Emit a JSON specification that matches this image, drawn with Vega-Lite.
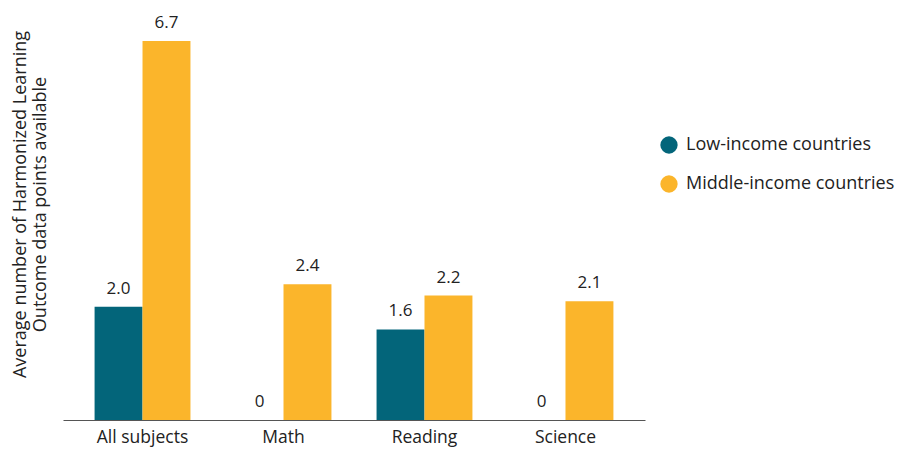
{
  "$schema": "https://vega.github.io/schema/vega-lite/v6.json",
  "width": 582,
  "height": 410,
  "autosize": {"type": "none"},
  "padding": {"left": 63, "top": 10, "right": 254, "bottom": 32},
  "background": "white",
  "config": {
    "view": {"stroke": null},
    "font": "Open Sans",
    "text": {"font": "Open Sans"}
  },
  "data": {
    "values": [
      {"subject": "All subjects", "group": "Low-income countries", "value": 2.0, "label": "2.0"},
      {"subject": "All subjects", "group": "Middle-income countries", "value": 6.7, "label": "6.7"},
      {"subject": "Math", "group": "Low-income countries", "value": 0, "label": "0"},
      {"subject": "Math", "group": "Middle-income countries", "value": 2.4, "label": "2.4"},
      {"subject": "Reading", "group": "Low-income countries", "value": 1.6, "label": "1.6"},
      {"subject": "Reading", "group": "Middle-income countries", "value": 2.2, "label": "2.2"},
      {"subject": "Science", "group": "Low-income countries", "value": 0, "label": "0"},
      {"subject": "Science", "group": "Middle-income countries", "value": 2.1, "label": "2.1"}
    ]
  },
  "encoding": {
    "x": {
      "field": "subject",
      "type": "nominal",
      "sort": null,
      "scale": {"paddingInner": 0.32, "paddingOuter": 0.224},
      "axis": {
        "title": null,
        "labelAngle": 0,
        "labelFontSize": 17.5,
        "labelColor": "#222222",
        "labelPadding": 8,
        "ticks": false,
        "domainColor": "#555555",
        "domainWidth": 1
      }
    },
    "xOffset": {"field": "group", "type": "nominal"},
    "y": {
      "field": "value",
      "type": "quantitative",
      "scale": {"domain": [0, 7.248], "nice": false},
      "axis": {
        "title": ["Average number of Harmonized Learning", "Outcome data points available"],
        "titleFontSize": 18,
        "titleFontWeight": "normal",
        "titleColor": "#222222",
        "titlePadding": 14,
        "titleY": 194,
        "titleLineHeight": 20,
        "labels": false,
        "ticks": false,
        "domain": false,
        "grid": false
      }
    }
  },
  "layer": [
    {
      "mark": {"type": "bar"},
      "encoding": {
        "color": {
          "field": "group",
          "type": "nominal",
          "scale": {
            "domain": ["Low-income countries", "Middle-income countries"],
            "range": ["#03657a", "#fbb52b"]
          },
          "legend": {
            "title": null,
            "orient": "none",
            "legendX": 597,
            "legendY": 126,
            "symbolType": "circle",
            "symbolSize": 300,
            "symbolStrokeWidth": 0,
            "labelFontSize": 18,
            "labelColor": "#222222",
            "labelOffset": 8,
            "labelLimit": 0,
            "rowPadding": 21
          }
        }
      }
    },
    {
      "mark": {"type": "text", "baseline": "bottom", "dy": -9, "fontSize": 17, "color": "#222222"},
      "encoding": {
        "text": {"field": "label", "type": "nominal"}
      }
    }
  ]
}
